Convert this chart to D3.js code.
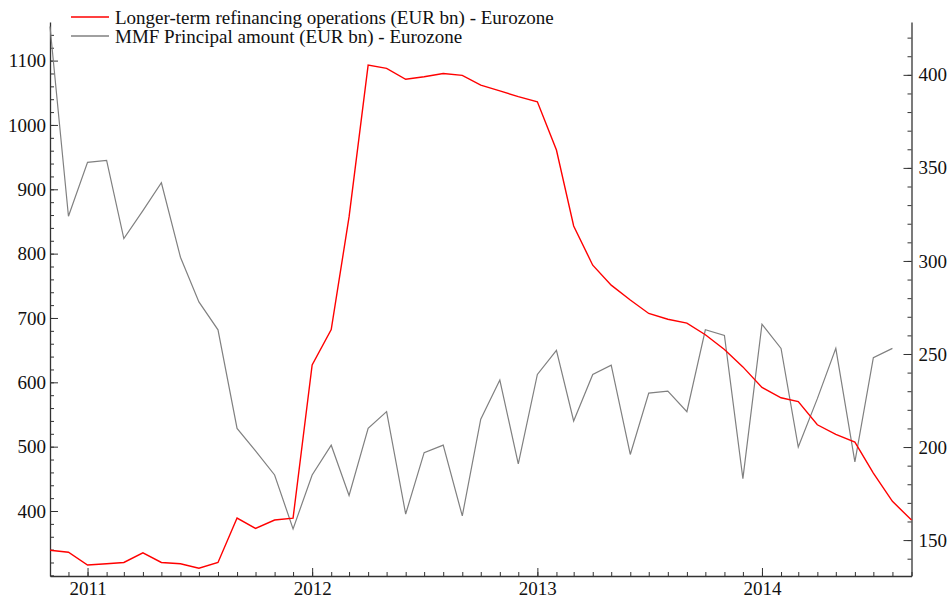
<!DOCTYPE html>
<meta charset="utf-8">
<style>
body { margin: 0; background: #fff; }
.axis path, .axis line { stroke: #333; }
.legend { font-size: 19px; fill: #111; }
</style>
<body>
<script src="https://cdn.jsdelivr.net/npm/d3@7"></script>
<script>

// monthly observations, Nov 2010 .. Sep 2014
var months = ["2010-11","2010-12",
  "2011-01","2011-02","2011-03","2011-04","2011-05","2011-06","2011-07","2011-08","2011-09","2011-10","2011-11","2011-12",
  "2012-01","2012-02","2012-03","2012-04","2012-05","2012-06","2012-07","2012-08","2012-09","2012-10","2012-11","2012-12",
  "2013-01","2013-02","2013-03","2013-04","2013-05","2013-06","2013-07","2013-08","2013-09","2013-10","2013-11","2013-12",
  "2014-01","2014-02","2014-03","2014-04","2014-05","2014-06","2014-07","2014-08","2014-09"];

// Longer-term refinancing operations (EUR bn), left axis
var ltro = [339, 336,
  316, 318, 320, 335, 320, 318, 311, 320, 389, 373, 386, 389,
  627, 682, 857, 1093, 1088, 1071, 1075, 1080, 1077, 1062, 1053, 1044,
  1036, 961, 843, 782, 751, 728, 707, 698, 692, 674, 651, 624,
  592, 576, 570, 534, 519, 507, 459, 415, 386];

// MMF Principal amount (EUR bn), right axis (no Sep 2014 value)
var mmf = [426, 324,
  353, 354, 312, 327, 342, 302, 278, 263, 210, 198, 185, 156,
  185, 201, 174, 210, 219, 164, 197, 201, 163, 215, 236, 191,
  239, 252, 214, 239, 244, 196, 229, 230, 219, 263, 260, 183,
  266, 253, 200, 226, 253, 192, 248, 253];

var seriesNames = ["Longer-term refinancing operations (EUR bn) - Eurozone",
                   "MMF Principal amount (EUR bn) - Eurozone"];
var leftTicks = [400, 500, 600, 700, 800, 900, 1000, 1100];
var rightTicks = [150, 200, 250, 300, 350, 400];

var width = 949, height = 600;
var margin = {left: 50, right: 911.5, top: 22, bottom: 576};
var serif = "'Liberation Serif', 'Times New Roman', serif";

var parse = d3.timeParse("%Y-%m");
var dates = months.map(parse);

var x = d3.scaleTime()
    .domain([dates[0], dates[dates.length - 1]])
    .range([margin.left, margin.right]);
var yL = d3.scaleLinear().domain([299, 1160]).range([margin.bottom, margin.top]);
var yR = d3.scaleLinear().domain([130.7, 428.4]).range([margin.bottom, margin.top]);

var svg = d3.select("body").append("svg")
    .attr("width", width)
    .attr("height", height)
    .style("font-family", serif);

// minor ticks first
svg.append("g")
    .attr("class", "axis")
    .attr("transform", "translate(" + margin.left + ",0)")
    .call(d3.axisRight(yL).tickValues(d3.range(300, 1160, 20)).tickSize(4).tickFormat(""))
    .select(".domain").remove();
svg.append("g")
    .attr("class", "axis")
    .attr("transform", "translate(" + margin.right + ",0)")
    .call(d3.axisLeft(yR).tickValues(d3.range(140, 429, 10)).tickSize(4).tickFormat(""))
    .select(".domain").remove();
svg.append("g")
    .attr("class", "axis")
    .attr("transform", "translate(0," + margin.bottom + ")")
    .call(d3.axisTop(x).ticks(d3.timeMonth.every(1)).tickSize(4).tickFormat(""))
    .select(".domain").remove();

// major ticks + labels
var gl = svg.append("g")
    .attr("class", "axis")
    .attr("transform", "translate(" + margin.left + ",0)")
    .call(d3.axisLeft(yL).tickValues(leftTicks).tickFormat(d3.format("d"))
          .tickSize(0).tickPadding(4).tickSizeOuter(0));
gl.selectAll(".tick line").attr("x2", 8);

var gr = svg.append("g")
    .attr("class", "axis")
    .attr("transform", "translate(" + margin.right + ",0)")
    .call(d3.axisRight(yR).tickValues(rightTicks).tickFormat(d3.format("d"))
          .tickSize(0).tickPadding(7).tickSizeOuter(0));
gr.selectAll(".tick line").attr("x2", -8);

var gb = svg.append("g")
    .attr("class", "axis")
    .attr("transform", "translate(0," + margin.bottom + ")")
    .call(d3.axisBottom(x).ticks(d3.timeYear.every(1)).tickFormat(d3.timeFormat("%Y"))
          .tickSize(0).tickPadding(4).tickSizeOuter(0));
gb.selectAll(".tick line").attr("y2", -8);
gb.selectAll(".tick text").attr("dy", "0.8em");

svg.selectAll(".axis")
    .attr("font-family", serif)
    .attr("font-size", 19);
svg.selectAll(".axis text").attr("fill", "#111");
svg.selectAll(".axis .domain").attr("stroke-width", 1.3);

// lines
var lineL = d3.line()
    .x(function(d, i) { return x(dates[i]); })
    .y(function(d) { return yL(d); });
var lineR = d3.line()
    .x(function(d, i) { return x(dates[i]); })
    .y(function(d) { return yR(d); });

svg.append("path")
    .datum(mmf)
    .attr("fill", "none")
    .attr("stroke", "#808080")
    .attr("stroke-width", 1.2)
    .attr("d", lineR);

svg.append("path")
    .datum(ltro)
    .attr("fill", "none")
    .attr("stroke", "#ff0000")
    .attr("stroke-width", 1.4)
    .attr("d", lineL);

// legend
var legColors = ["#ff0000", "#808080"];
var leg = svg.selectAll(".leg")
    .data(seriesNames)
    .enter().append("g")
    .attr("transform", function(d, i) { return "translate(71," + (17 + i * 19) + ")"; });
leg.append("line")
    .attr("x1", 0).attr("x2", 38)
    .attr("stroke", function(d, i) { return legColors[i]; })
    .attr("stroke-width", 1.3);
leg.append("text")
    .attr("class", "legend")
    .attr("x", 44)
    .attr("dy", "0.35em")
    .text(function(d) { return d; });

</script>
</body>
